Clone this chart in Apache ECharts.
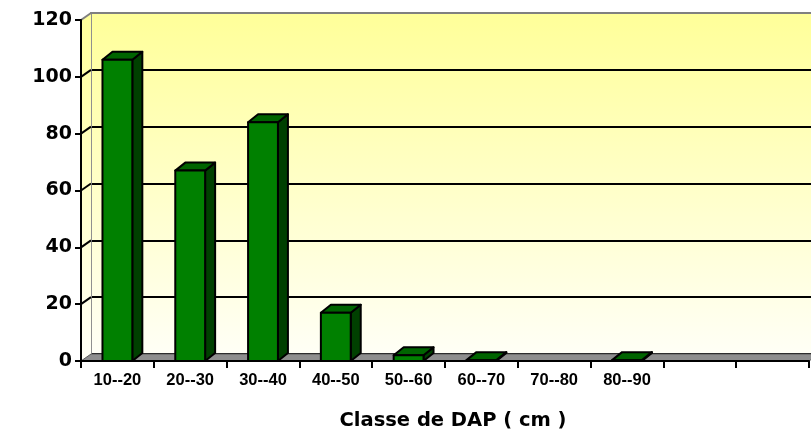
<!DOCTYPE html>
<html>
<head>
<meta charset="utf-8">
<script src="https://cdn.jsdelivr.net/npm/echarts@6/dist/echarts.min.js"></script>
<style>html,body{margin:0;padding:0;background:#fff}#c{width:811px;height:433px}</style>
</head>
<body>
<div id="c"></div>
<script>
// ---- data ----
var categories = ['10--20','20--30','30--40','40--50','50--60','60--70','70--80','80--90','',''];
var counts = [106, 67, 84, 17, 2, 0.3, 0, 0.3, null, null];
var yTicks = [0, 20, 40, 60, 80, 100, 120];
var xTitle = 'Classe de DAP ( cm )';

var DX = 10, DY = -7;      // wall depth offset
var BDX = 10, BDY = -8;    // bar depth offset

var chart = echarts.init(document.getElementById('c'), null, {renderer: 'canvas'});

var wallGrad = new echarts.graphic.LinearGradient(0, 0, 0, 1, [
  {offset: 0, color: '#FFFF99'},
  {offset: 1, color: '#FFFFF6'}
]);

var barData = counts.map(function (v, i) { return [i, v]; });
var tickData = yTicks.map(function (v) { return [0, v]; });

var option = {
  animation: false,
  backgroundColor: '#ffffff',
  grid: [
    {left: 81, right: 2, top: 20, bottom: 72},
    {left: 81 + DX, right: 2 - DX, top: 20 + DY, bottom: 72 - DY, show: true, backgroundColor: wallGrad, borderWidth: 0}
  ],
  xAxis: [
    {
      type: 'category', gridIndex: 0, data: categories, z: 10,
      axisLine: {show: true, lineStyle: {color: '#000', width: 2}},
      axisTick: {show: true, length: 7, lineStyle: {color: '#000', width: 2}},
      axisLabel: {interval: 0, margin: 11, color: '#000', fontFamily: 'Liberation Sans', fontWeight: 'bold', fontSize: 16.5},
      splitLine: {show: false}
    },
    {
      type: 'value', gridIndex: 1, min: 0, max: 1, position: 'top', z: 5,
      axisLine: {show: true, onZero: false, lineStyle: {color: '#808080', width: 2}},
      axisTick: {show: false}, axisLabel: {show: false}, splitLine: {show: false}
    }
  ],
  yAxis: [
    {
      type: 'value', gridIndex: 0, min: 0, max: 120, interval: 20, z: 10,
      axisLine: {show: true, lineStyle: {color: '#000', width: 2}},
      axisTick: {show: true, length: 6, lineStyle: {color: '#000', width: 2}},
      axisLabel: {margin: 9, color: '#000', fontFamily: 'DejaVu Sans', fontWeight: 'bold', fontSize: 19},
      splitLine: {show: false}
    },
    {
      type: 'value', gridIndex: 1, min: 0, max: 120, interval: 20,
      axisLine: {show: true, onZero: false, lineStyle: {color: '#909090', width: 2}},
      axisTick: {show: false}, axisLabel: {show: false},
      splitLine: {show: true, lineStyle: {color: '#000', width: 2}}
    }
  ],
  series: [
    { // left side wall
      type: 'custom', xAxisIndex: 0, yAxisIndex: 0, z: 1, silent: true,
      data: [[0, 0]],
      renderItem: function (params, api) {
        var cs = params.coordSys;
        var x = cs.x, t = cs.y, b = cs.y + cs.height;
        return {
          type: 'polygon',
          shape: {points: [[x, t], [x + DX, t + DY], [x + DX, b + DY], [x, b]]},
          style: {fill: wallGrad, stroke: null}
        };
      }
    },
    { // side wall grid diagonals
      type: 'custom', xAxisIndex: 0, yAxisIndex: 0, z: 2, silent: true,
      data: tickData,
      renderItem: function (params, api) {
        var v = api.value(1);
        if (v === 0) return null;
        var x = params.coordSys.x;
        var p = api.coord([0, v]);
        return {
          type: 'line',
          shape: {x1: x, y1: p[1], x2: x + DX, y2: p[1] + DY},
          style: {stroke: v === 120 ? '#808080' : '#000', lineWidth: 2}
        };
      }
    },
    { // floor
      type: 'custom', xAxisIndex: 0, yAxisIndex: 0, z: 2, silent: true,
      data: [[0, 0]],
      renderItem: function (params, api) {
        var cs = params.coordSys;
        var b = api.coord([0, 0])[1];
        var x = cs.x, r = cs.x + cs.width;
        return {
          type: 'polygon',
          shape: {points: [[x, b], [x + DX, b + DY], [r + DX, b + DY], [r, b]]},
          style: {fill: '#8e8e8e', stroke: '#5a5a5a', lineWidth: 1}
        };
      }
    },
    { // 3D bars
      type: 'custom', xAxisIndex: 0, yAxisIndex: 0, z: 4,
      data: barData,
      renderItem: function (params, api) {
        var v = api.value(1);
        if (!v) return null;
        var top = api.coord([api.value(0), v]);
        var base = api.coord([api.value(0), 0]);
        var bw = api.size([1, 0])[0] * 0.41;
        var l = top[0] - bw / 2, r = top[0] + bw / 2;
        var ty = top[1], by = base[1];
        var st = {stroke: '#000', lineWidth: 2, lineJoin: 'round'};
        return {
          type: 'group',
          children: [
            {type: 'polygon', shape: {points: [[r, ty], [r + BDX, ty + BDY], [r + BDX, by + BDY], [r, by]]},
             style: Object.assign({fill: '#004000'}, st)},
            {type: 'polygon', shape: {points: [[l, ty], [l + BDX, ty + BDY], [r + BDX, ty + BDY], [r, ty]]},
             style: Object.assign({fill: '#006400'}, st)},
            {type: 'polygon', shape: {points: [[l, ty], [r, ty], [r, by], [l, by]]},
             style: Object.assign({fill: '#008000'}, st)}
          ]
        };
      }
    }
  ],
  graphic: [
    {
      type: 'text', x: 453, y: 421, z: 20,
      style: {text: xTitle, fill: '#000', font: 'bold 19.5px "DejaVu Sans"', align: 'center', verticalAlign: 'middle'}
    }
  ]
};
chart.setOption(option);
</script>
</body>
</html>
